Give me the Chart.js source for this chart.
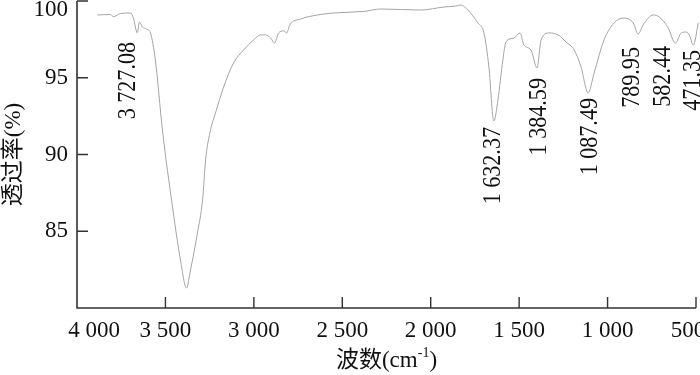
<!DOCTYPE html>
<html>
<head>
<meta charset="utf-8">
<title>FTIR spectrum</title>
<script src="https://cdn.jsdelivr.net/npm/chart.js@4"></script>
<style>
  html, body { margin: 0; padding: 0; background: #fff; }
  #wrap { width: 700px; height: 375px; }
</style>
</head>
<body>
<div id="wrap"><canvas id="ir-chart" width="700" height="375"></canvas></div>
<script>
// Spectrum: wavenumber (cm-1) and transmittance (%)
const wavenumbers = [
  3885, 3811, 3794, 3755, 3698, 3681, 3659, 3647, 3630, 3608,
  3585, 3557, 3517, 3460, 3415, 3381, 3358, 3319, 3290, 3273,
  3245, 3217, 3171, 3115, 3058, 3002, 2962, 2934, 2905, 2883,
  2860, 2831, 2814, 2797, 2735, 2639, 2548, 2378, 2282, 2056,
  1925, 1858, 1829, 1790, 1733, 1699, 1671, 1643, 1620, 1592,
  1575, 1529, 1495, 1473, 1433, 1399, 1376, 1331, 1280, 1235,
  1189, 1150, 1110, 1076, 1020, 963, 912, 855, 827, 799,
  742, 708, 657, 617, 583, 555, 538, 515, 487
];
const transmittance = [
  99.09, 99.12, 98.98, 99.18, 99.22, 98.89, 97.92, 98.63, 98.31, 98.18,
  97.92, 96.16, 91.60, 86.58, 83.13, 81.30, 82.48, 84.89, 87.04, 89.64,
  91.60, 92.70, 94.40, 95.96, 96.81, 97.46, 97.79, 97.79, 97.59, 97.26,
  97.92, 98.05, 97.92, 98.44, 98.83, 99.09, 99.22, 99.32, 99.48, 99.41,
  99.61, 99.67, 99.74, 99.41, 98.57, 97.92, 95.70, 92.18, 93.55, 96.16,
  97.33, 97.59, 97.92, 97.13, 96.81, 95.64, 97.46, 97.92, 97.79, 97.33,
  96.81, 95.70, 94.01, 95.31, 97.46, 98.57, 98.89, 98.57, 97.85, 98.44,
  99.09, 98.96, 98.24, 97.26, 97.92, 97.98, 97.79, 97.13, 98.57
];

// Peak labels: text, where the label sits (wavenumber) and where its top end is (%)
const peakLabels = ['3 727.08', '1 632.37', '1 384.59', '1 087.49', '789.95', '582.44', '471.35'];
const peakLabelX = [3712, 1648, 1388, 1099, 861, 685, 515];
const peakLabelTop = [97.33, 91.79, 94.98, 93.68, 97.0, 97.07, 96.81];

// Axis ticks
const xTicks = [4000, 3500, 3000, 2500, 2000, 1500, 1000, 500];
const xTickLabels = ['4 000', '3 500', '3 000', '2 500', '2 000', '1 500', '1 000', '500'];
const yTicks = [85, 90, 95, 100];
const yTickLabels = ['85', '90', '95', '100'];

const SERIF = '"Liberation Serif", "Times New Roman", serif';
const CJK = '"Liberation Serif", "Noto Sans CJK SC", serif';

// Draws axes, inward ticks, tick labels, titles and peak labels
const axesPlugin = {
  id: 'irAxes',
  afterDatasetsDraw(chart) {
    const ctx = chart.ctx;
    const area = chart.chartArea;
    const xs = chart.scales.x;
    const ys = chart.scales.y;

    ctx.save();
    ctx.strokeStyle = '#333';
    ctx.lineWidth = 1.6;
    ctx.beginPath();
    ctx.moveTo(area.left, area.top);
    ctx.lineTo(area.left, area.bottom);
    ctx.lineTo(area.right, area.bottom);
    ctx.stroke();

    // inward tick marks
    ctx.lineWidth = 1.4;
    ctx.beginPath();
    xTicks.forEach(v => {
      if (v === 4000) return;
      const px = xs.getPixelForValue(v);
      ctx.moveTo(px, area.bottom);
      ctx.lineTo(px, area.bottom - 11);
    });
    yTicks.forEach(v => {
      const py = ys.getPixelForValue(v);
      ctx.moveTo(area.left, py);
      ctx.lineTo(area.left + 11, py);
    });
    ctx.stroke();

    // tick labels
    ctx.fillStyle = '#111';
    ctx.font = '23px ' + SERIF;
    ctx.textAlign = 'center';
    ctx.textBaseline = 'middle';
    xTicks.forEach((v, i) => {
      let px = xs.getPixelForValue(v);
      px = Math.min(Math.max(px, area.left + 17), area.right - 8);
      ctx.fillText(xTickLabels[i], px, area.bottom + 23);
    });
    ctx.textAlign = 'right';
    yTicks.forEach((v, i) => {
      const py = Math.max(ys.getPixelForValue(v), area.top + 9);
      ctx.fillText(yTickLabels[i], area.left - 9, py);
    });

    // axis titles
    ctx.font = '23px ' + CJK;
    const titleX = (area.left + area.right) / 2;
    const t1 = '波数(cm';
    const sup = '-1';
    const t2 = ')';
    const w1 = ctx.measureText(t1).width;
    const w2 = ctx.measureText(t2).width;
    ctx.font = '14px ' + SERIF;
    const ws = ctx.measureText(sup).width;
    const sx = titleX - (w1 + ws + w2) / 2;
    ctx.textAlign = 'left';
    ctx.font = '23px ' + CJK;
    ctx.fillText(t1, sx, 361);
    ctx.font = '14px ' + SERIF;
    ctx.fillText(sup, sx + w1, 353);
    ctx.font = '23px ' + CJK;
    ctx.fillText(t2, sx + w1 + ws, 361);

    ctx.save();
    ctx.translate(14, (area.top + area.bottom) / 2);
    ctx.rotate(-Math.PI / 2);
    ctx.textAlign = 'center';
    ctx.fillText('透过率(%)', 0, 0);
    ctx.restore();

    // peak labels, rotated, top end just under each band
    ctx.font = '26px ' + SERIF;
    ctx.textAlign = 'right';
    ctx.textBaseline = 'middle';
    peakLabels.forEach((txt, i) => {
      const px = xs.getPixelForValue(peakLabelX[i]);
      const py = ys.getPixelForValue(peakLabelTop[i]);
      ctx.save();
      ctx.translate(px, py);
      ctx.rotate(-Math.PI / 2);
      ctx.scale(0.85, 1);
      ctx.fillText(txt, 0, 0);
      ctx.restore();
    });
    ctx.restore();
  }
};

function buildChart() {
  const ctx = document.getElementById('ir-chart');
  const points = wavenumbers.map((w, i) => ({ x: w, y: transmittance[i] }));

  new Chart(ctx, {
    type: 'line',
    data: {
      datasets: [{
        label: '透过率',
        data: points,
        borderColor: '#aaa2a2',
        borderWidth: 1,
        pointRadius: 0,
        cubicInterpolationMode: 'monotone',
        fill: false,
        clip: { left: 0, top: 5, right: 5, bottom: 0 }
      }]
    },
    options: {
      responsive: false,
      animation: false,
      devicePixelRatio: 1,
      layout: {
        padding: { left: 77, top: 1, right: 4, bottom: 67 }
      },
      plugins: {
        legend: { display: false },
        tooltip: { enabled: false }
      },
      scales: {
        x: { type: 'linear', reverse: true, min: 500, max: 4000, display: false },
        y: { type: 'linear', min: 80, max: 100, display: false }
      }
    },
    plugins: [axesPlugin]
  });
}

window.addEventListener('DOMContentLoaded', buildChart);
</script>
</body>
</html>
